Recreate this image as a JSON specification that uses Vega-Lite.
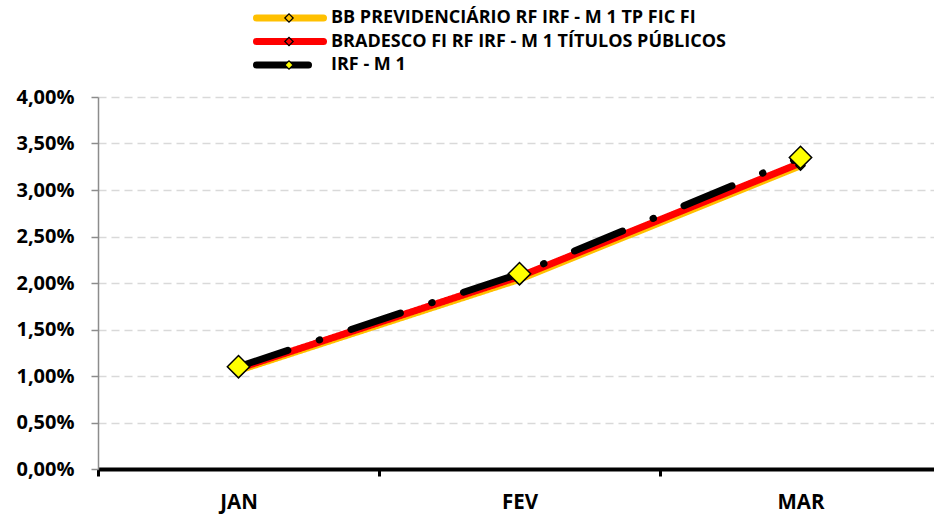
{
  "$schema": "https://vega.github.io/schema/vega-lite/v6.json",
  "width": 836,
  "height": 372,
  "autosize": "none",
  "padding": {"left": 98, "top": 97, "right": 0, "bottom": 47},
  "background": "white",
  "config": {
    "locale": {"number": {"decimal": ",", "thousands": ".", "grouping": [3], "currency": ["R$", ""]}},
    "font": "Open Sans",
    "view": {"stroke": null}
  },
  "data": {
    "values": [
      {"mes": "JAN", "serie": "BB PREVIDENCIÁRIO RF IRF - M 1 TP FIC FI", "valor": 0.0106},
      {"mes": "FEV", "serie": "BB PREVIDENCIÁRIO RF IRF - M 1 TP FIC FI", "valor": 0.0204},
      {"mes": "MAR", "serie": "BB PREVIDENCIÁRIO RF IRF - M 1 TP FIC FI", "valor": 0.0326},
      {"mes": "JAN", "serie": "BRADESCO FI RF IRF - M 1 TÍTULOS PÚBLICOS", "valor": 0.0108},
      {"mes": "FEV", "serie": "BRADESCO FI RF IRF - M 1 TÍTULOS PÚBLICOS", "valor": 0.0207},
      {"mes": "MAR", "serie": "BRADESCO FI RF IRF - M 1 TÍTULOS PÚBLICOS", "valor": 0.0329},
      {"mes": "JAN", "serie": "IRF - M 1", "valor": 0.0110},
      {"mes": "FEV", "serie": "IRF - M 1", "valor": 0.0210},
      {"mes": "MAR", "serie": "IRF - M 1", "valor": 0.0335}
    ]
  },
  "encoding": {
    "x": {
      "field": "mes", "type": "nominal", "sort": ["JAN", "FEV", "MAR"],
      "scale": {"type": "band", "paddingInner": 0, "paddingOuter": 0, "range": [0, 843]},
      "axis": {
        "title": null, "tickBand": "extent", "grid": false,
        "domainColor": "black", "domainWidth": 4,
        "tickColor": "black", "tickWidth": 3, "tickSize": 7,
        "labelAngle": 0, "labelFontSize": 20.5, "labelFontWeight": "bold", "labelColor": "black", "labelPadding": 16
      }
    },
    "y": {
      "field": "valor", "type": "quantitative",
      "scale": {"domain": [0, 0.04], "nice": false},
      "axis": {
        "title": null, "format": ".2%",
        "values": [0, 0.005, 0.01, 0.015, 0.02, 0.025, 0.03, 0.035, 0.04],
        "grid": true, "gridColor": "#D9D9D9", "gridDash": [8, 5], "gridWidth": 1.5,
        "domainColor": "#8C8C8C", "domainWidth": 1.5,
        "tickColor": "#8C8C8C", "tickSize": 7, "tickWidth": 1.5,
        "labelFontSize": 20, "labelFontWeight": "bold", "labelColor": "black", "labelPadding": 17
      }
    }
  },
  "layer": [
    {
      "mark": {"type": "line", "strokeWidth": 7, "strokeCap": "round", "strokeJoin": "round"},
      "encoding": {
        "color": {
          "field": "serie", "type": "nominal",
          "scale": {
            "domain": ["BB PREVIDENCIÁRIO RF IRF - M 1 TP FIC FI", "BRADESCO FI RF IRF - M 1 TÍTULOS PÚBLICOS", "IRF - M 1"],
            "range": ["#FFC000", "#FF0000", "#000000"]
          },
          "legend": {
            "title": null, "orient": "none", "legendX": 149.5, "legendY": -88, "padding": 0,
            "symbolType": "M0,0L14.89,0", "symbolSize": 81, "symbolStrokeWidth": 7,
            "labelFontSize": 18, "labelFontWeight": "bold", "labelColor": "black", "labelOffset": 65.5,
            "rowPadding": 5.5, "labelLimit": 600,
            "encode": {"symbols": {"update": {"strokeCap": {"value": "round"}, "strokeJoin": {"value": "round"}}}}
          }
        },
        "strokeDash": {
          "field": "serie", "type": "nominal",
          "scale": {
            "domain": ["BB PREVIDENCIÁRIO RF IRF - M 1 TP FIC FI", "BRADESCO FI RF IRF - M 1 TÍTULOS PÚBLICOS", "IRF - M 1"],
            "range": [[1, 0], [1, 0], [52, 33, 0.5, 33]]
          },
          "legend": null
        }
      }
    },
    {
      "mark": {"type": "point", "shape": "diamond", "filled": true, "stroke": "black", "strokeWidth": 1.5, "opacity": 1},
      "encoding": {
        "fill": {
          "field": "serie", "type": "nominal",
          "scale": {"range": ["#FFC000", "#FF0000", "#FFFF00"]},
          "legend": {
            "title": null, "orient": "none", "legendX": 182, "legendY": -88, "padding": 0,
            "symbolType": "diamond", "symbolSize": 70, "symbolStrokeColor": "black", "symbolStrokeWidth": 1.2,
            "labelFontSize": 18, "labelFontWeight": "bold", "labelOpacity": 0, "labelOffset": 8,
            "labelExpr": "' '",
            "rowPadding": 5.5, "labelLimit": 600
          }
        },
        "size": {"condition": {"test": "datum.serie === 'IRF - M 1'", "value": 500}, "value": 80}
      }
    }
  ]
}
